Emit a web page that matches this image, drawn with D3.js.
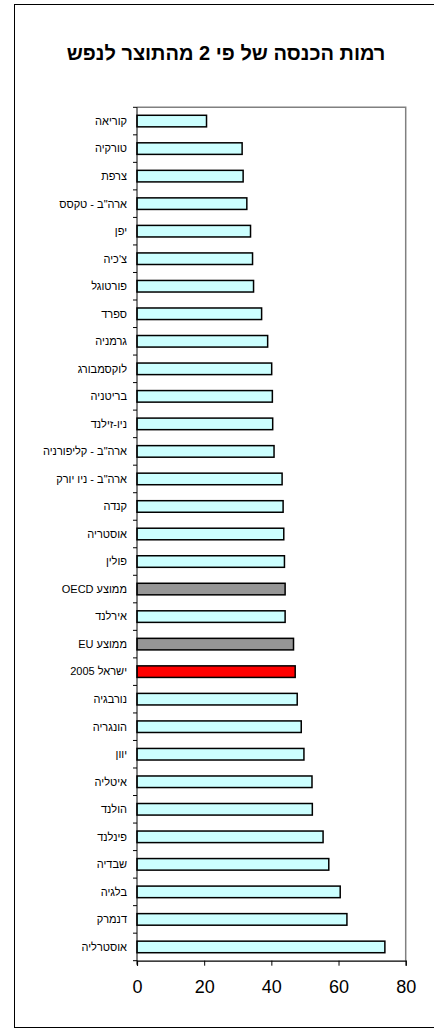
<!DOCTYPE html>
<html><head><meta charset="utf-8">
<script src="https://cdn.jsdelivr.net/npm/d3@7"></script>
<style>
html,body{margin:0;padding:0;background:#fff;}
svg{display:block;}
text{font-family:"Liberation Sans",Arial,sans-serif;fill:#000;}
</style></head>
<body>
<svg id="chart" width="434" height="1029"></svg>
<script>
const title = "רמות הכנסה של פי 2 מהתוצר לנפש";
const categories = [
  "קוריאה","טורקיה","צרפת","ארה\"ב - טקסס","יפן","צ'כיה","פורטוגל","ספרד","גרמניה","לוקסמבורג",
  "בריטניה","ניו-זילנד","ארה\"ב - קליפורניה","ארה\"ב - ניו יורק","קנדה","אוסטריה","פולין","ממוצע OECD","אירלנד","ממוצע EU",
  "ישראל 2005","נורבגיה","הונגריה","יוון","איטליה","הולנד","פינלנד","שבדיה","בלגיה","דנמרק","אוסטרליה"
];
const values = [20.7,31.3,31.6,32.7,33.8,34.4,34.7,37.1,38.9,40.1,40.3,40.4,40.8,43.2,43.5,43.7,43.9,44.1,44.1,46.6,47.1,47.7,48.9,49.7,52.1,52.2,55.4,57.1,60.5,62.5,73.8];
const barKind = ["country","country","country","country","country","country","country","country","country","country","country","country","country","country","country","country","country","average","country","average","israel","country","country","country","country","country","country","country","country","country","country"];
const xTicks = [0,20,40,60,80];
const kindColors = {country:"#CCFFFF", average:"#969696", israel:"#FF0000"};

const svg = d3.select("#chart");
const RLE = "\u202B", PDF = "\u202C";

// outer frame
svg.append("rect").attr("x",14.5).attr("y",4.5).attr("width",440).attr("height",1023)
  .attr("fill","none").attr("stroke","#000").attr("stroke-width",1);

svg.append("text").attr("x",226).attr("y",60).attr("text-anchor","middle")
  .style("font-size","20px").style("font-weight","bold").text(RLE+title+PDF);

const L=137, R=405.7, T=107.3, B=960.7;
const x = d3.scaleLinear().domain([0,80]).range([L,R]);
const y = d3.scaleBand().domain(categories).range([T,B]).paddingInner(0.58).paddingOuter(0.29);

// plot area border (gray)
svg.append("path").attr("d",`M${L},${T}H${R}V${B}`).attr("fill","none").attr("stroke","#808080").attr("stroke-width",1.5);

svg.append("g").selectAll("rect").data(categories).join("rect")
  .attr("x",x(0)).attr("y",d=>y(d))
  .attr("width",(d,i)=>x(values[i])-x(0)).attr("height",y.bandwidth())
  .attr("fill",(d,i)=>kindColors[barKind[i]]).attr("stroke","#000").attr("stroke-width",1.5);

// y axis: line + ticks at band boundaries
const gy = svg.append("g");
gy.append("line").attr("x1",L).attr("x2",L).attr("y1",T).attr("y2",B+4).attr("stroke","#000").attr("stroke-width",1);
gy.selectAll("line.t").data(d3.range(categories.length+1)).join("line").attr("class","t")
  .attr("x1",L-4).attr("x2",L).attr("y1",i=>T+i*(B-T)/categories.length).attr("y2",i=>T+i*(B-T)/categories.length)
  .attr("stroke","#000").attr("stroke-width",1);
gy.selectAll("text").data(categories).join("text")
  .attr("x",L-10).attr("y",d=>y(d)+y.bandwidth()/2).attr("dy","0.35em")
  .attr("text-anchor","end").style("font-size","11px").text(d=>RLE+d+PDF);

// x axis
const xAxis = d3.axisBottom(x).tickValues(xTicks).tickSize(5).tickPadding(15);
const gx = svg.append("g").attr("transform",`translate(0,${B})`).call(xAxis);
gx.select(".domain").attr("stroke","#000").attr("stroke-width",1.2);
gx.selectAll(".tick line").attr("stroke","#000");
gx.selectAll(".tick text").style("font-size","18px").style("font-family","'Liberation Sans',Arial,sans-serif").attr("fill","#000");
</script>
</body></html>
